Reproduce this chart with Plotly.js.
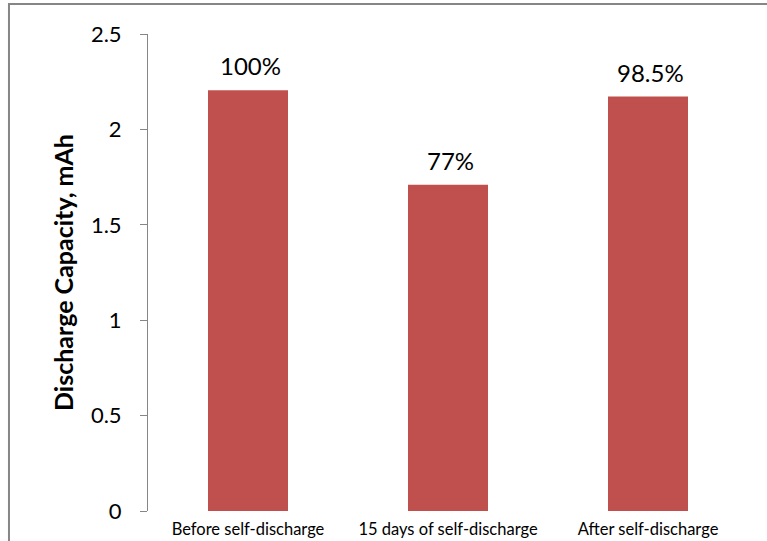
<!DOCTYPE html>
<html>
<head>
<meta charset="utf-8">
<script src="https://cdn.plot.ly/plotly-3.0.1.min.js"></script>
<style>
  html, body { margin: 0; padding: 0; background: #fff; }
  #chart { width: 767px; height: 541px; }
</style>
</head>
<body>
<div id="chart"></div>
<script>
// Discharge capacity of the cell before, during and after the self-discharge test
const categories = ["Before self-discharge", "15 days of self-discharge", "After self-discharge"];
const capacity = [2.205, 1.71, 2.172];           // mAh
const retention = ["100%", "77%", "98.5%"];      // capacity relative to the first measurement
const yTicks = [0, 0.5, 1, 1.5, 2, 2.5];

const FONT = "Lato, 'Open Sans', 'Liberation Sans', sans-serif";
const GREY = "#868686";

const bars = {
  type: "bar",
  x: categories,
  y: capacity,
  marker: { color: "#C0504D", line: { width: 0 } },
  width: 0.4,
  hoverinfo: "x+y",
  showlegend: false
};

// percentage labels sitting just above each bar
const labels = categories.map((c, i) => ({
  x: c,
  y: capacity[i],
  xref: "x",
  yref: "y",
  text: retention[i],
  showarrow: false,
  yanchor: "bottom",
  yshift: 8,
  xshift: 2,
  font: { family: FONT, size: 24, color: "#000" }
}));

const layout = {
  width: 767,
  height: 541,
  margin: { l: 148, r: 19, t: 34, b: 30, pad: 0 },
  paper_bgcolor: "#fff",
  plot_bgcolor: "#fff",
  font: { family: FONT, color: "#000" },
  xaxis: {
    type: "category",
    range: [-0.5, 2.5],
    showline: false,
    showgrid: false,
    zeroline: false,
    ticks: "",
    tickfont: { family: FONT, size: 16.5, color: "#000" },
    ticklabelstandoff: 6,
    automargin: false
  },
  yaxis: {
    range: [0, 2.5],
    tickvals: yTicks,
    showline: true,
    linecolor: GREY,
    linewidth: 1,
    showgrid: false,
    zeroline: false,
    ticks: "outside",
    ticklen: 7,
    tickwidth: 1,
    tickcolor: GREY,
    tickfont: { family: FONT, size: 22, color: "#000" },
    ticklabelstandoff: 14,
    automargin: false,
    title: {
      text: "<b>Discharge Capacity, mAh</b>",
      font: { family: FONT, size: 25, color: "#000" },
      standoff: 10
    }
  },
  annotations: labels,
  shapes: [
    // outer frame around the chart
    {
      type: "path",
      xref: "paper",
      yref: "paper",
      path: "M -0.2317,-0.2 L -0.2317,1.0629 L 1.2,1.0629",
      line: { color: GREY, width: 2 },
      layer: "above"
    }
  ]
};

Plotly.newPlot("chart", [bars], layout, { displayModeBar: false, staticPlot: true });
</script>
</body>
</html>
